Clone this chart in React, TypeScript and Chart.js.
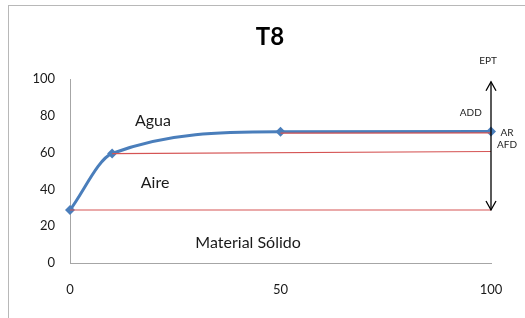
import React, { useEffect, useRef } from "react";
import { Chart, registerables } from "chart.js";

Chart.register(...registerables);

const xTicks = [0, 50, 100];
const yTicks = [0, 20, 40, 60, 80, 100];

const curveX = [0, 10, 50, 100];
const curveY = [28.8, 59.5, 71.3, 71.4];

const solidLineX = [0, 100];
const solidLineY = [28.8, 28.8];
const airLineX = [10, 100];
const airLineY = [59.4, 60.6];
const waterLineX = [50, 100];
const waterLineY = [70.6, 70.7];

const arrowX = [100, 100];
const arrowY = [28.8, 98.5];

const title = "T8";
const regionLabels = [
  { text: "Agua", x: 19.7, y: 77.5, size: 16 },
  { text: "Aire", x: 20.2, y: 43.5, size: 16 },
  { text: "Material Sólido", x: 42.3, y: 11, size: 16 },
];
const sideLabels = [
  { text: "EPT", x: 99.3, y: 109.8 },
  { text: "ADD", x: 95.2, y: 81.5 },
  { text: "AR", x: 103.8, y: 70.8 },
  { text: "AFD", x: 103.8, y: 64.2 },
];

const FONT = "Lato, 'Open Sans', sans-serif";

const toPts = (xs: number[], ys: number[]) => xs.map((x, i) => ({ x, y: ys[i] }));

export default function App() {
  const ref = useRef<HTMLCanvasElement | null>(null);
  useEffect(() => {
    if (!ref.current) return;
    const decor = {
      id: "decor",
      beforeDraw(chart: any) {
        const ctx = chart.ctx;
        ctx.save();
        ctx.fillStyle = "#ffffff";
        ctx.fillRect(0, 0, chart.width, chart.height);
        ctx.strokeStyle = "#b8b8b8";
        ctx.lineWidth = 1;
        ctx.strokeRect(8.5, 5.5, 600, 400);
        ctx.restore();
      },
      afterDatasetsDraw(chart: any) {
        const ctx = chart.ctx;
        const xs = chart.scales.x;
        const ys = chart.scales.y;
        ctx.save();
        const ax = xs.getPixelForValue(arrowX[0]);
        const yb = ys.getPixelForValue(arrowY[0]);
        const yt = ys.getPixelForValue(arrowY[1]);
        ctx.strokeStyle = "#000";
        ctx.lineWidth = 1.3;
        ctx.beginPath();
        ctx.moveTo(ax - 5, yt + 9);
        ctx.lineTo(ax, yt);
        ctx.lineTo(ax + 5, yt + 9);
        ctx.moveTo(ax - 5, yb - 9);
        ctx.lineTo(ax, yb);
        ctx.lineTo(ax + 5, yb - 9);
        ctx.stroke();
        ctx.fillStyle = "#1a1a1a";
        ctx.textAlign = "center";
        ctx.textBaseline = "middle";
        regionLabels.forEach((l) => {
          ctx.font = `${l.size}px ${FONT}`;
          ctx.fillText(l.text, xs.getPixelForValue(l.x), ys.getPixelForValue(l.y));
        });
        ctx.font = `10px ${FONT}`;
        ctx.fillStyle = "#222";
        sideLabels.forEach((l) => {
          ctx.fillText(l.text, xs.getPixelForValue(l.x), ys.getPixelForValue(l.y));
        });
        ctx.font = `bold 24px ${FONT}`;
        ctx.fillStyle = "#000";
        ctx.fillText(title, 270, 37);
        ctx.restore();
      },
    };
    const red = "#d55454";
    const chart = new Chart(ref.current, {
      type: "line",
      data: {
        datasets: [
          { data: toPts(arrowX, arrowY), borderColor: "#000", borderWidth: 1.3, pointRadius: 0, tension: 0 },
          { data: toPts(solidLineX, solidLineY), borderColor: red, borderWidth: 1.2, pointRadius: 0, tension: 0 },
          { data: toPts(airLineX, airLineY), borderColor: red, borderWidth: 1.2, pointRadius: 0, tension: 0 },
          { data: toPts(waterLineX, waterLineY), borderColor: red, borderWidth: 1.2, pointRadius: 0, tension: 0 },
          {
            data: toPts(curveX, curveY),
            borderColor: "#4a7ebb",
            backgroundColor: "#4a7ebb",
            borderWidth: 3,
            pointStyle: "rectRot",
            pointRadius: 5,
            pointBorderWidth: 0,
            cubicInterpolationMode: "monotone",
          },
        ],
      },
      options: {
        responsive: false,
        animation: false,
        clip: false as any,
        layout: { padding: { left: 0, top: 79, right: 34, bottom: 0 } },
        plugins: {
          legend: { display: false },
          tooltip: { enabled: false },
          title: { display: false },
        },
        scales: {
          x: {
            type: "linear",
            min: 0,
            max: 100,
            afterFit: (s: any) => {
              s.height = 55;
            },
            afterBuildTicks: (s: any) => {
              s.ticks = xTicks.map((v) => ({ value: v }));
            },
            grid: { display: false },
            border: { display: true, color: "#a6a6a6", width: 1 },
            ticks: { padding: 11, color: "#1a1a1a", font: { family: FONT, size: 13 }, maxRotation: 0 },
          },
          y: {
            type: "linear",
            min: 0,
            max: 100,
            afterFit: (s: any) => {
              s.width = 70;
            },
            afterBuildTicks: (s: any) => {
              s.ticks = yTicks.map((v) => ({ value: v }));
            },
            grid: { display: false },
            border: { display: true, color: "#a6a6a6", width: 1 },
            ticks: { padding: 7, color: "#1a1a1a", font: { family: FONT, size: 13 } },
          },
        },
      },
      plugins: [decor],
    });
    return () => chart.destroy();
  }, []);
  return (
    <div style={{ position: "absolute", left: 0, top: 0, width: 525, height: 318 }}>
      <canvas ref={ref} width={525} height={318} style={{ display: "block" }} />
    </div>
  );
}
